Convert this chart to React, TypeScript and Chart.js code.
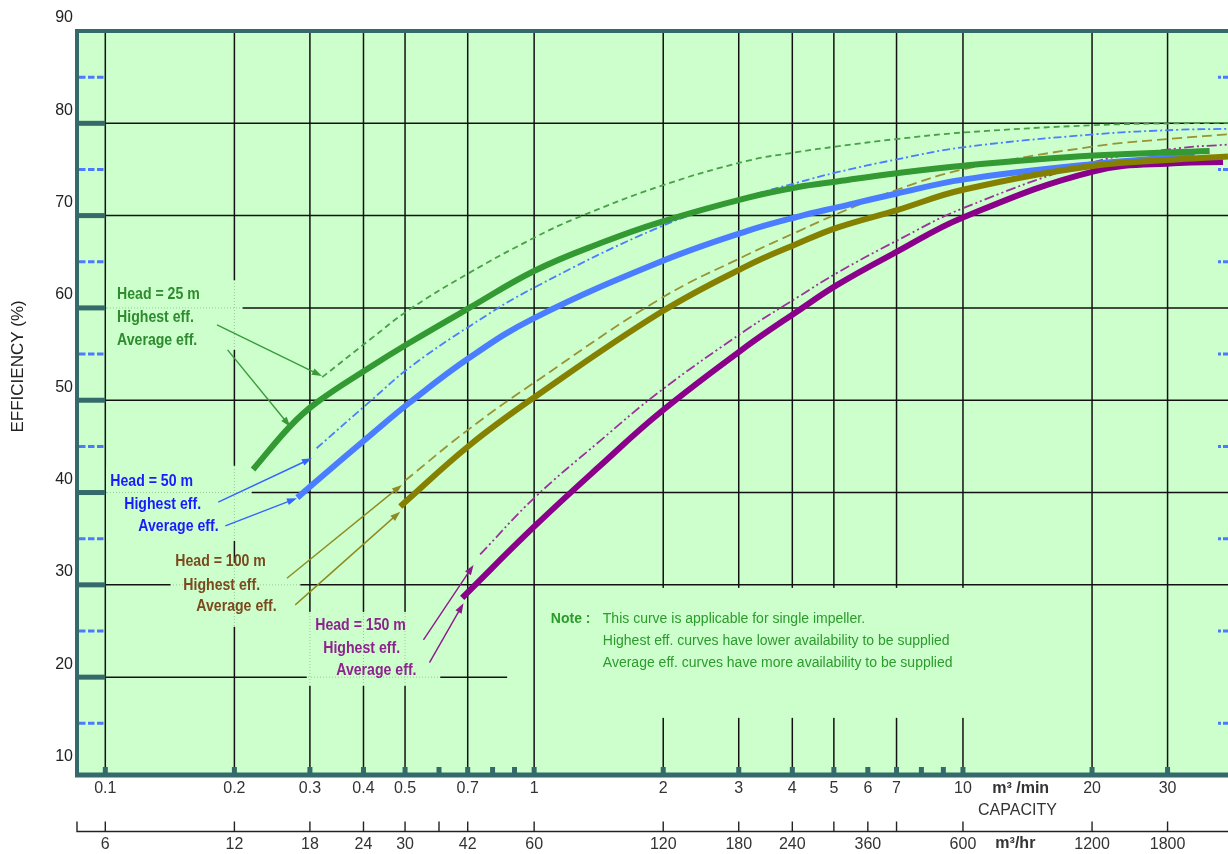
import React, { useEffect, useRef } from 'react';
import { Chart, registerables } from 'chart.js';

Chart.register(...registerables);

// ---------------- Axis values ----------------
const xTickValues = [0.1, 0.2, 0.3, 0.4, 0.5, 0.7, 1, 2, 3, 4, 5, 6, 7, 10, 20, 30];
const xTickLabels = ['0.1', '0.2', '0.3', '0.4', '0.5', '0.7', '1', '2', '3', '4', '5', '6', '7', '10', '20', '30'];
const yTickValues = [10, 20, 30, 40, 50, 60, 70, 80, 90];
const hrTickValues = [6, 12, 18, 24, 30, 36, 42, 60, 120, 180, 240, 300, 360, 420, 600, 1200, 1800];
const hrTickLabels = ['6', '12', '18', '24', '30', '', '42', '60', '120', '180', '240', '', '360', '', '600', '1200', '1800'];
const gridXValues = [0.1, 0.2, 0.3, 0.4, 0.5, 0.7, 1, 2, 3, 4, 5, 7, 10, 20, 30];
const gridYValues = [20, 30, 40, 50, 60, 70, 80];
const halfYValues = [15, 25, 35, 45, 55, 65, 75, 85];
const minorXValues = [0.1, 0.2, 0.3, 0.4, 0.5, 0.6, 0.7, 0.8, 0.9, 1, 2, 3, 4, 5, 6, 7, 8, 9, 10, 20, 30];
const MIN_PER_HR = 60;
const X_MIN = 0.0859;
const X_MAX = 41.5;
const Y_MIN = 9.4;
const Y_MAX = 90;
const SHORT_GRID_Y = 20;
const SHORT_GRID_Y_END = 0.865;

// ---------------- Series (capacity m3/min, efficiency %) ----------------
const head25AvgCap = [0.221, 0.27, 0.31, 0.415, 0.511, 0.706, 1.0, 1.425, 1.97, 3.12, 4.13, 5.09, 7.02, 10, 20.2, 37.6];
const head25AvgEff = [42.5, 47.2, 49.7, 53.6, 56.2, 60.0, 64.0, 67.0, 69.3, 71.9, 73.1, 73.7, 74.6, 75.4, 76.5, 77.0];
const head25HighCap = [0.3205, 0.415, 0.511, 0.706, 1.0, 1.25, 1.97, 3.12, 4.13, 5.09, 7.02, 10, 20.2, 31.9, 41.5];
const head25HighEff = [52.5, 56.6, 59.8, 63.8, 67.6, 69.7, 73.2, 75.9, 76.9, 77.5, 78.3, 79.0, 79.8, 80.0, 80.05];

const head50AvgCap = [0.2804, 0.31, 0.415, 0.511, 0.706, 1.0, 1.97, 3.12, 4.13, 5.09, 7.02, 10, 20.2, 34.7];
const head50AvgEff = [39.45, 41.2, 46.2, 49.7, 54.6, 58.9, 65.0, 68.3, 69.9, 70.9, 72.4, 73.9, 75.6, 76.5];
const head50HighCap = [0.311, 0.415, 0.511, 0.706, 1.0, 1.97, 3.12, 4.13, 5.09, 7.02, 10, 20.2, 31.9, 41.5];
const head50HighEff = [44.8, 49.9, 53.5, 58.0, 62.2, 68.8, 72.0, 73.6, 74.7, 76.1, 77.4, 78.8, 79.3, 79.4];

const head100AvgCap = [0.4873, 0.706, 1.0, 1.97, 3.12, 4.13, 5.09, 7.02, 10, 20.2, 31.9, 41.5];
const head100AvgEff = [38.5, 45.1, 50.3, 59.5, 64.5, 67.0, 68.7, 70.6, 72.8, 75.4, 76.1, 76.4];
const head100HighCap = [0.5003, 0.706, 1.0, 1.97, 3.12, 4.13, 5.09, 7.02, 10, 20.2, 31.9, 41.5];
const head100HighEff = [41.3, 46.9, 51.9, 61.0, 65.7, 68.3, 70.2, 72.8, 75.0, 77.5, 78.4, 78.8];

const head150AvgCap = [0.6796, 1.0, 1.425, 1.97, 3.12, 4.13, 5.09, 7.02, 10, 20.2, 31.9, 40.4];
const head150AvgEff = [28.6, 36.3, 42.9, 48.7, 55.8, 59.7, 62.5, 66.1, 69.8, 74.8, 75.7, 75.8];
const head150HighCap = [0.7484, 1.0, 1.425, 1.97, 3.12, 4.13, 5.09, 7.02, 10, 20.2, 31.9, 41.5];
const head150HighEff = [33.3, 39.4, 45.6, 51.0, 57.6, 61.2, 63.8, 67.3, 70.8, 75.8, 77.3, 77.7];

// ---------------- Annotations (data coordinates) ----------------
const headLabels = [
  { text: 'Head = 25 m', x: 0.1065, y: 61.5, color: '#2e8b2e' },
  { text: 'Highest eff.', x: 0.1065, y: 59.0, color: '#2e8b2e' },
  { text: 'Average eff.', x: 0.1065, y: 56.5, color: '#2e8b2e' },
  { text: 'Head = 50 m', x: 0.1027, y: 41.2, color: '#1a1aff' },
  { text: 'Highest eff.', x: 0.1107, y: 38.7, color: '#1a1aff' },
  { text: 'Average eff.', x: 0.1194, y: 36.3, color: '#1a1aff' },
  { text: 'Head = 100 m', x: 0.1456, y: 32.5, color: '#7a4a1e' },
  { text: 'Highest eff.', x: 0.152, y: 30.0, color: '#7a4a1e' },
  { text: 'Average eff.', x: 0.163, y: 27.65, color: '#7a4a1e' },
  { text: 'Head = 150 m', x: 0.3087, y: 25.66, color: '#8e238e' },
  { text: 'Highest eff.', x: 0.3223, y: 23.14, color: '#8e238e' },
  { text: 'Average eff.', x: 0.3456, y: 20.79, color: '#8e238e' },
];

const arrows = [
  { x0: 0.1822, y0: 58.16, x1: 0.32, y1: 52.63, color: '#3a9a3a' },
  { x0: 0.1928, y0: 55.45, x1: 0.27, y1: 47.14, color: '#3a9a3a' },
  { x0: 0.1834, y0: 38.97, x1: 0.3032, y1: 43.72, color: '#3366ff' },
  { x0: 0.1905, y0: 36.39, x1: 0.2798, y1: 39.39, color: '#3366ff' },
  { x0: 0.2652, y0: 30.72, x1: 0.4915, y1: 40.83, color: '#8f8a20' },
  { x0: 0.2773, y0: 27.83, x1: 0.4871, y1: 37.93, color: '#8f8a20' },
  { x0: 0.552, y0: 24.04, x1: 0.7223, y1: 32.16, color: '#8b1a8b' },
  { x0: 0.5701, y0: 21.58, x1: 0.6843, y1: 28.01, color: '#8b1a8b' },
];

const coverBoxes = [
  { x0: 0.1005, x1: 0.209, y0: 63.0, y1: 55.45, remnant: true },
  { x0: 0.1005, x1: 0.2195, y0: 42.9, y1: 34.76, remnant: true },
  { x0: 0.142, x1: 0.285, y0: 32.38, y1: 25.45, remnant: true },
  { x0: 0.295, x1: 0.604, y0: 27.07, y1: 19.06, remnant: true },
  { x0: 1.061, x1: 18.8, y0: 29.67, y1: 15.59, remnant: false },
];

const noteLines = [
  'This curve is applicable for single impeller.',
  'Highest eff. curves have lower availability to be supplied',
  'Average eff. curves have more availability to be supplied',
];
const noteLabelPos = { x: 1.094, y: 26.28 };
const noteBodyX = 1.446;
const noteBodyY = [26.28, 23.85, 21.51];

const FONT = '"Liberation Sans", Arial, Helvetica, sans-serif';
const PLOT_BG = '#ccffcc';
const BORDER = '#356a6a';
const GRID = '#121212';

const pts = (xs: number[], ys: number[]) => xs.map((x, i) => ({ x, y: ys[i] }));

function strokeGrid(chart: any, faint: boolean) {
  const { ctx, chartArea: a } = chart;
  const xs = chart.scales.x;
  const ys = chart.scales.y;
  ctx.save();
  ctx.strokeStyle = faint ? 'rgba(110,160,110,0.55)' : GRID;
  ctx.lineWidth = faint ? 1 : 1.5;
  ctx.setLineDash(faint ? [1, 2] : []);
  ctx.beginPath();
  for (const v of gridXValues) {
    const px = xs.getPixelForValue(v);
    ctx.moveTo(px, a.top);
    ctx.lineTo(px, a.bottom);
  }
  for (const v of gridYValues) {
    const py = ys.getPixelForValue(v);
    const end = v === SHORT_GRID_Y ? xs.getPixelForValue(SHORT_GRID_Y_END) : a.right;
    ctx.moveTo(a.left, py);
    ctx.lineTo(end, py);
  }
  ctx.stroke();
  ctx.restore();
}

const decorPlugin = {
  id: 'pumpDecor',
  beforeDraw(chart: any) {
    const { ctx, chartArea: a } = chart;
    ctx.save();
    ctx.fillStyle = '#ffffff';
    ctx.fillRect(0, 0, chart.width, chart.height);
    ctx.fillStyle = PLOT_BG;
    ctx.fillRect(a.left, a.top, a.right - a.left, a.bottom - a.top);
    ctx.restore();
  },
  beforeDatasetsDraw(chart: any) {
    const { ctx, chartArea: a } = chart;
    const xs = chart.scales.x;
    const ys = chart.scales.y;
    strokeGrid(chart, false);
    ctx.save();
    for (const b of coverBoxes) {
      const l = xs.getPixelForValue(b.x0);
      const r = xs.getPixelForValue(b.x1);
      const t = ys.getPixelForValue(b.y0);
      const bt = ys.getPixelForValue(b.y1);
      ctx.fillStyle = PLOT_BG;
      ctx.fillRect(l, t, r - l, bt - t);
      if (b.remnant) {
        ctx.save();
        ctx.beginPath();
        ctx.rect(l, t, r - l, bt - t);
        ctx.clip();
        strokeGrid(chart, true);
        ctx.restore();
      }
    }
    // left strip markers
    const stripR = xs.getPixelForValue(0.1);
    ctx.fillStyle = BORDER;
    for (const v of gridYValues) {
      const py = ys.getPixelForValue(v);
      ctx.fillRect(a.left, py - 2.5, stripR - a.left, 5);
    }
    ctx.strokeStyle = '#4d79ff';
    ctx.lineWidth = 3;
    ctx.setLineDash([6.5, 2.5]);
    for (const v of halfYValues) {
      const py = ys.getPixelForValue(v);
      ctx.beginPath();
      ctx.moveTo(a.left + 2, py);
      ctx.lineTo(stripR, py);
      ctx.stroke();
    }
    ctx.setLineDash([3, 2, 7, 2]);
    for (const v of halfYValues) {
      const py = ys.getPixelForValue(v);
      ctx.beginPath();
      ctx.moveTo(a.right - 10, py);
      ctx.lineTo(a.right, py);
      ctx.stroke();
    }
    ctx.restore();
  },
  afterDatasetsDraw(chart: any) {
    const { ctx, chartArea: a } = chart;
    const xs = chart.scales.x;
    const ys = chart.scales.y;
    ctx.save();
    // frame
    ctx.fillStyle = BORDER;
    ctx.fillRect(a.left - 2, a.top - 2, a.right - a.left + 4, 4);
    ctx.fillRect(a.left - 2, a.top - 2, 4, a.bottom - a.top + 4);
    ctx.fillRect(a.left - 2, a.bottom - 2.5, a.right - a.left + 4, 5);
    for (const v of minorXValues) {
      const px = xs.getPixelForValue(v);
      ctx.fillRect(px - 2.5, a.bottom - 8, 5, 6);
    }

    // arrows
    for (const ar of arrows) {
      const x0 = xs.getPixelForValue(ar.x0);
      const y0 = ys.getPixelForValue(ar.y0);
      const x1 = xs.getPixelForValue(ar.x1);
      const y1 = ys.getPixelForValue(ar.y1);
      const ang = Math.atan2(y1 - y0, x1 - x0);
      ctx.strokeStyle = ar.color;
      ctx.fillStyle = ar.color;
      ctx.lineWidth = 1.4;
      ctx.beginPath();
      ctx.moveTo(x0, y0);
      ctx.lineTo(x1 - 6 * Math.cos(ang), y1 - 6 * Math.sin(ang));
      ctx.stroke();
      const L = 10;
      const W = 3.5;
      ctx.beginPath();
      ctx.moveTo(x1, y1);
      ctx.lineTo(x1 - L * Math.cos(ang) + W * Math.sin(ang), y1 - L * Math.sin(ang) - W * Math.cos(ang));
      ctx.lineTo(x1 - L * Math.cos(ang) - W * Math.sin(ang), y1 - L * Math.sin(ang) + W * Math.cos(ang));
      ctx.closePath();
      ctx.fill();
    }

    // head labels (condensed bold)
    ctx.textAlign = 'left';
    ctx.textBaseline = 'middle';
    ctx.font = `bold 17px ${FONT}`;
    for (const lb of headLabels) {
      const px = xs.getPixelForValue(lb.x);
      const py = ys.getPixelForValue(lb.y);
      ctx.fillStyle = lb.color;
      ctx.save();
      ctx.translate(px, py);
      ctx.scale(0.83, 1);
      ctx.fillText(lb.text, 0, 0);
      ctx.restore();
    }

    // note
    ctx.fillStyle = '#2b9b2b';
    ctx.font = `bold 14px ${FONT}`;
    ctx.fillText('Note :', xs.getPixelForValue(noteLabelPos.x), ys.getPixelForValue(noteLabelPos.y));
    ctx.font = `14px ${FONT}`;
    noteLines.forEach((t, i) => {
      ctx.fillText(t, xs.getPixelForValue(noteBodyX), ys.getPixelForValue(noteBodyY[i]));
    });

    // capacity unit labels
    ctx.fillStyle = '#333333';
    ctx.font = `bold 16px ${FONT}`;
    ctx.textAlign = 'left';
    ctx.fillText('m³ /min', xs.getPixelForValue(11.7), a.bottom + 14);
    ctx.font = `16px ${FONT}`;
    ctx.textAlign = 'center';
    ctx.fillText('CAPACITY', xs.getPixelForValue(13.4), a.bottom + 36);

    // secondary (m3/hr) axis
    const axisY = a.bottom + 56.5;
    ctx.strokeStyle = '#222222';
    ctx.lineWidth = 1.4;
    ctx.setLineDash([]);
    ctx.beginPath();
    ctx.moveTo(a.left, axisY - 10);
    ctx.lineTo(a.left, axisY);
    ctx.lineTo(a.right, axisY);
    for (const v of hrTickValues) {
      const px = xs.getPixelForValue(v / MIN_PER_HR);
      ctx.moveTo(px, axisY - 10);
      ctx.lineTo(px, axisY);
    }
    ctx.stroke();
    ctx.fillStyle = '#333333';
    ctx.font = `16px ${FONT}`;
    ctx.textAlign = 'center';
    hrTickLabels.forEach((t, i) => {
      if (!t) return;
      ctx.fillText(t, xs.getPixelForValue(hrTickValues[i] / MIN_PER_HR), axisY + 13);
    });
    ctx.font = `bold 16px ${FONT}`;
    ctx.textAlign = 'left';
    ctx.fillText('m³/hr', xs.getPixelForValue(11.9), axisY + 12);

    // y title
    ctx.save();
    ctx.translate(18, (ys.getPixelForValue(50) + ys.getPixelForValue(40)) / 2 - 80);
    ctx.rotate(-Math.PI / 2);
    ctx.fillStyle = '#222222';
    ctx.font = `17px ${FONT}`;
    ctx.textAlign = 'center';
    ctx.textBaseline = 'middle';
    ctx.fillText('EFFICIENCY (%)', 0, 0);
    ctx.restore();

    ctx.restore();
  },
};

const thick = 6;
const thin = 1.8;

function buildConfig(): any {
  return {
    type: 'line',
    data: {
      datasets: [
        { label: 'Head 25 m average eff.', data: pts(head25AvgCap, head25AvgEff), borderColor: '#339933', borderWidth: thick, order: 1 },
        { label: 'Head 100 m average eff.', data: pts(head100AvgCap, head100AvgEff), borderColor: '#858000', borderWidth: thick, order: 2 },
        { label: 'Head 150 m average eff.', data: pts(head150AvgCap, head150AvgEff), borderColor: '#8b008b', borderWidth: thick, order: 3 },
        { label: 'Head 50 m average eff.', data: pts(head50AvgCap, head50AvgEff), borderColor: '#4a7dff', borderWidth: thick, order: 4 },
        { label: 'Head 25 m highest eff.', data: pts(head25HighCap, head25HighEff), borderColor: '#48a048', borderWidth: thin, borderDash: [6, 4], order: 5 },
        { label: 'Head 50 m highest eff.', data: pts(head50HighCap, head50HighEff), borderColor: '#4a7dff', borderWidth: thin, borderDash: [8, 3, 2, 3], order: 6 },
        { label: 'Head 100 m highest eff.', data: pts(head100HighCap, head100HighEff), borderColor: '#9a9233', borderWidth: thin, borderDash: [10, 5], order: 7 },
        { label: 'Head 150 m highest eff.', data: pts(head150HighCap, head150HighEff), borderColor: '#9a339a', borderWidth: thin, borderDash: [10, 3, 2, 3, 2, 3], order: 8 },
      ].map((d) => ({ ...d, pointRadius: 0, fill: false, tension: 0.4, borderCapStyle: 'butt' })),
    },
    options: {
      responsive: false,
      animation: false,
      events: [],
      layout: { padding: { top: 31, left: 0, right: 0, bottom: 0 } },
      plugins: { legend: { display: false }, tooltip: { enabled: false }, title: { display: false } },
      scales: {
        x: {
          type: 'logarithmic',
          min: X_MIN,
          max: X_MAX,
          grid: { display: false, drawTicks: false },
          border: { display: false },
          afterBuildTicks: (s: any) => {
            s.ticks = xTickValues.map((v) => ({ value: v }));
          },
          afterFit: (s: any) => {
            s.height = 79;
          },
          ticks: {
            autoSkip: false,
            maxRotation: 0,
            minRotation: 0,
            padding: 4,
            color: '#333333',
            font: { family: FONT, size: 16 },
            callback: (_v: any, i: number) => xTickLabels[i],
          },
        },
        y: {
          type: 'linear',
          min: Y_MIN,
          max: Y_MAX,
          grid: { display: false, drawTicks: false },
          border: { display: false },
          afterBuildTicks: (s: any) => {
            s.ticks = yTickValues.map((v) => ({ value: v }));
          },
          afterFit: (s: any) => {
            s.width = 77;
          },
          ticks: {
            padding: 4,
            labelOffset: -13,
            color: '#222222',
            font: { family: FONT, size: 16 },
            callback: (v: any) => String(v),
          },
        },
      },
    },
    plugins: [decorPlugin],
  };
}

export default function App() {
  const ref = useRef<HTMLCanvasElement>(null);
  useEffect(() => {
    if (!ref.current) return;
    const chart = new Chart(ref.current, buildConfig());
    return () => chart.destroy();
  }, []);
  return (
    <div style={{ position: 'fixed', left: 0, top: 0, width: 1228, height: 854, background: '#ffffff' }}>
      <canvas ref={ref} width={1228} height={854} style={{ display: 'block', width: 1228, height: 854 }} />
    </div>
  );
}
